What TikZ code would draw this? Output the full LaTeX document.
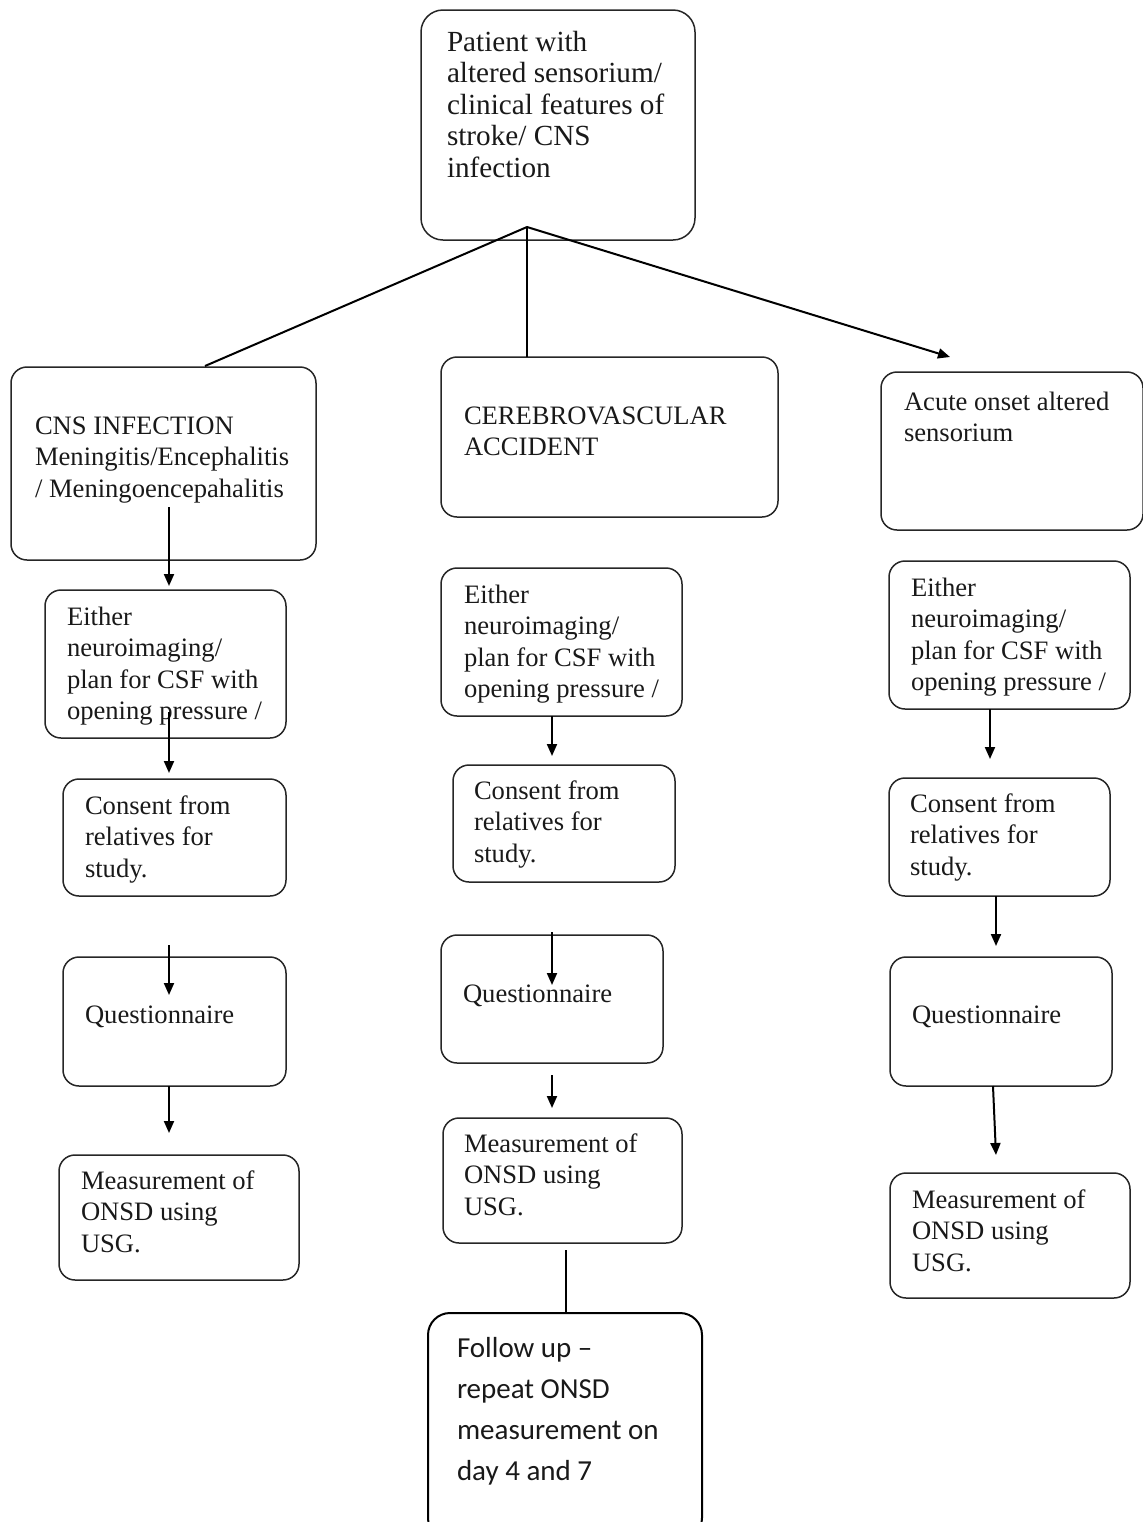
\documentclass[tikz,border=0pt]{standalone}
\usepackage{fontspec}
\setmainfont{Liberation Serif}
\newfontfamily\calibri{Carlito}
\usetikzlibrary{calc,arrows.meta}
\tikzset{
  box/.style={draw=black!85, line width=0.75pt, rounded corners=8pt, inner sep=0pt, outer sep=0pt, anchor=north west},
  bigbox/.style={box, rounded corners=11pt},
  txt/.style={inner sep=0pt, outer sep=0pt, anchor=base west, align=left, text=black!90, font=\fontsize{13.3}{15.75}\selectfont},
  toptxt/.style={txt, font=\fontsize{14.6}{15.75}\selectfont},
  futxt/.style={txt, font=\calibri\fontsize{14.5}{20.5}\selectfont},
  conn/.style={line width=1pt, black},
  arr/.style={conn, -{Triangle[length=6pt,width=5pt]}}
}
\begin{document}
\begin{tikzpicture}[x=0.5pt,y=-0.5pt]
\useasboundingbox (0,0) rectangle (1142,1522);
% boxes
\node[bigbox, minimum width=137pt, minimum height=115pt] (top) at (421,10) {};
\node[box, minimum width=152.5pt, minimum height=96.5pt] (cns) at (11,367) {};
\node[box, minimum width=168.5pt, minimum height=80pt] (cva) at (441,357) {};
\node[box, minimum width=131pt, minimum height=79pt] (acu) at (881,372) {};
\node[box, minimum width=120.5pt, minimum height=74pt] (le) at (45,590) {};
\node[box, minimum width=120.5pt, minimum height=74pt] (me) at (441,568) {};
\node[box, minimum width=120.5pt, minimum height=74pt] (re) at (889,561) {};
\node[box, minimum width=111.5pt, minimum height=58.5pt] (lc) at (63,779) {};
\node[box, minimum width=111pt, minimum height=58.5pt] (mc) at (453,765) {};
\node[box, minimum width=110.5pt, minimum height=59pt] (rc) at (889,778) {};
\node[box, minimum width=111.5pt, minimum height=64.5pt] (lq) at (63,957) {};
\node[box, minimum width=111pt, minimum height=64pt] (mq) at (441,935) {};
\node[box, minimum width=111pt, minimum height=64.5pt] (rq) at (890,957) {};
\node[box, minimum width=120pt, minimum height=62.5pt] (lm) at (59,1155) {};
\node[box, minimum width=119.5pt, minimum height=62.5pt] (mm) at (443,1118) {};
\node[box, minimum width=120pt, minimum height=62.5pt] (rm) at (890,1173) {};
\node[bigbox, draw=black, line width=1pt, minimum width=137pt, minimum height=113.5pt] (fu) at (428,1313) {};
% texts (anchored at the baseline of the last line)
\node[toptxt] (topt) at (447,177) {Patient with\\altered sensorium/\\clinical features of\\stroke/ CNS\\infection};
\node[txt] (cnst) at (35,497) {CNS INFECTION\\Meningitis/Encephalitis\\/ Meningoencepahalitis};
\node[txt] (cvat) at (464,455.5) {CEREBROVASCULAR\\ACCIDENT};
\node[txt] (acut) at (904,441.5) {Acute onset altered\\sensorium};
\node[txt] (let) at (67,719.5) {Either\\neuroimaging/\\plan for CSF with\\opening pressure /};
\node[txt] (met) at (464,697.5) {Either\\neuroimaging/\\plan for CSF with\\opening pressure /};
\node[txt] (ret) at (911,690.5) {Either\\neuroimaging/\\plan for CSF with\\opening pressure /};
\node[txt] (lct) at (85,877) {Consent from\\relatives for\\study.};
\node[txt] (mct) at (474,862) {Consent from\\relatives for\\study.};
\node[txt] (rct) at (910,875) {Consent from\\relatives for\\study.};
\node[txt] (lqt) at (85,1023) {Questionnaire};
\node[txt] (mqt) at (463,1002) {Questionnaire};
\node[txt] (rqt) at (912,1023) {Questionnaire};
\node[txt] (lmt) at (81,1252) {Measurement of\\ONSD using\\USG.};
\node[txt] (mmt) at (464,1215) {Measurement of\\ONSD using\\USG.};
\node[txt] (rmt) at (912,1271) {Measurement of\\ONSD using\\USG.};
\node[futxt] (fut) at (457,1480) {Follow up –\\repeat ONSD\\measurement on\\day 4 and 7};
% connectors
\coordinate (split) at ($(top.north west)+(106,217)$);
\draw[conn] (split) -- ($(cns.north west)+(194,-1)$);
\draw[conn] (split) -- ($(cva.north west)+(86,0)$);
\draw[arr] (split) -- ($(acu.north west)+(69,-15)$);
\draw[arr] ($(cns.south west)+(158,-53)$) -- ($(le.north west)+(124,-4)$);
\draw[arr] ($(le.south west)+(124,-26)$) -- ($(lc.north west)+(106,-6)$);
\draw[arr] ($(lc.south west)+(106,49)$) -- ($(lq.north west)+(106,38)$);
\draw[arr] ($(lq.south west)+(106,0)$) -- ($(lm.north west)+(110,-22)$);
\draw[arr] ($(me.south west)+(111,0)$) -- ($(mc.north west)+(99,-9)$);
\draw[arr] ($(mc.south west)+(99,50)$) -- ($(mq.north west)+(111,50)$);
\draw[arr] ($(mq.south west)+(111,12)$) -- ($(mm.north west)+(109,-10)$);
\draw[conn] ($(mm.south west)+(123,7)$) -- ($(fu.north west)+(138,0)$);
\draw[arr] ($(re.south west)+(101,0)$) -- ($(rc.north west)+(101,-19)$);
\draw[arr] ($(rc.south west)+(107,0)$) -- ($(rq.north west)+(106,-11)$);
\draw[arr] ($(rq.south west)+(103,0)$) -- ($(rm.north west)+(106,-18)$);
\end{tikzpicture}
\end{document}
